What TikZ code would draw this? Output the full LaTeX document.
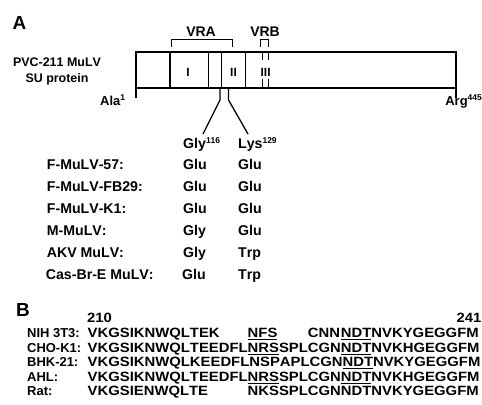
\documentclass[tikz,border=0pt]{standalone}
\usepackage{fontspec}
\setmainfont{Liberation Sans}[Kerning=Off]
\newcommand\sups[1]{\raisebox{4.5bp}{\fontsize{8.5}{8.5}\selectfont #1}}
\newcommand\ulx[1]{\setbox0\hbox{#1}\rlap{\rule[-2.6bp]{\wd0}{1.4bp}}\box0}
\newcommand\wide[1]{\scalebox{1.104}[1]{#1}}
\begin{document}
\begin{tikzpicture}[x=1bp,y=-1bp,
  panel/.style={font=\fontsize{19}{19}\selectfont\bfseries, inner sep=0pt},
  lab/.style={font=\fontsize{13}{13}\selectfont\bfseries, inner sep=0pt},
  vr/.style={font=\fontsize{14}{14}\selectfont\bfseries, inner sep=0pt},
  num/.style={font=\fontsize{12}{12}\selectfont\bfseries, inner sep=0pt},
  tab/.style={font=\fontsize{14.2}{14.2}\selectfont\bfseries, inner sep=0pt, anchor=base west},
  rowlab/.style={font=\fontsize{13}{13}\selectfont\bfseries, inner sep=0pt, anchor=base west},
  seq/.style={font=\fontsize{13.5}{13.5}\selectfont\bfseries, inner sep=0pt, anchor=base west},
  heavy/.style={line width=1.9bp},
  thin/.style={line width=1.3bp},
]
\useasboundingbox (0,0) rectangle (482,404);
% panel letters
\node[panel] (pA) at (19.5,23) {A};
\node[panel] (pB) at (23,310) {B};
% protein label
\node[font=\fontsize{12.5}{12.5}\selectfont\bfseries, inner sep=0pt, align=center] (prot) at (57,71) {PVC-211 MuLV\\[3.5bp]SU protein};
% SU box
\draw[thin] (136,52) -- (136,88) (456,52) -- (456,88);
\draw[heavy] (135.3,52) -- (456.7,52) (135.3,88) -- (456.7,88);
\draw[thin] (170,52) -- (170,88) (208.3,52) -- (208.3,88)
            (221.7,52) -- (221.7,88) (245.7,52) -- (245.7,88);
\draw[thin] (262.6,52) -- (262.6,60) (262.6,79) -- (262.6,88)
            (268.6,52) -- (268.6,60) (268.6,79) -- (268.6,88);
\node[num] (r1) at (188,72) {I};
\node[num] (r2) at (233.5,72) {II};
\node[num] (r3) at (265.6,72) {III};
% brackets
\draw[thin] (171.7,47) -- (171.7,39.3) -- (232.3,39.3) -- (232.3,47);
\draw[thin] (260.3,47) -- (260.3,39.3) -- (268.3,39.3) -- (268.3,47);
\node[vr] (vra) at (201,32) {VRA};
\node[vr] (vrb) at (265,32) {VRB};
% ends
\draw[thin] (136,88) -- (136,98);
\draw[thin] (456,88) -- (456,98);
\node[lab, anchor=base west] (ala) at (100,105) {Ala\sups{1}};
\node[lab, anchor=base east] (arg) at (482,105) {Arg\sups{445}};
% residue lines
\node[tab] (gly) at (183,148) {Gly\sups{116}};
\node[tab] (lys) at (238,148) {Lys\sups{129}};
\coordinate (g0) at (220,88);
\coordinate (g1) at (220,100);
\coordinate (g2) at (203,134);
\coordinate (l0) at (228.5,88);
\coordinate (l1) at (228.5,100);
\coordinate (l2) at (248,134);
\draw[thin] (g0) -- (g1) -- (g2);
\draw[thin] (l0) -- (l1) -- (l2);
% table
\node[tab] (v1) at (46.7,169.3) {F-MuLV-57:};
\node[tab] (v2) at (46.7,191.3) {F-MuLV-FB29:};
\node[tab] (v3) at (46.7,213.3) {F-MuLV-K1:};
\node[tab] (v4) at (46.7,235.3) {M-MuLV:};
\node[tab] (v5) at (46.7,257.3) {AKV MuLV:};
\node[tab] (v6) at (45.7,279.3) {Cas-Br-E MuLV:};
\node[tab] (a1) at (183,169.3) {Glu};
\node[tab] (a2) at (183,191.3) {Glu};
\node[tab] (a3) at (183,213.3) {Glu};
\node[tab] (a4) at (183,235.3) {Gly};
\node[tab] (a5) at (183,257.3) {Gly};
\node[tab] (a6) at (182,279.3) {Glu};
\node[tab] (b1) at (238,169.3) {Glu};
\node[tab] (b2) at (238,191.3) {Glu};
\node[tab] (b3) at (238,213.3) {Glu};
\node[tab] (b4) at (238,235.3) {Glu};
\node[tab] (b5) at (238,257.3) {Trp};
\node[tab] (b6) at (238,279.3) {Trp};
% panel B
\node[seq] (n210) at (87,322.8) {\wide{210}};
\node[seq, anchor=base east] (n241) at (481.5,322.8) {\wide{241}};
\node[rowlab] (s1) at (27,337.8) {NIH 3T3:};
\node[rowlab] (s2) at (27,352.3) {CHO-K1:};
\node[rowlab] (s3) at (27,366.8) {BHK-21:};
\node[rowlab] (s4) at (27,381.3) {AHL:};
\node[rowlab] (s5) at (27,395.8) {Rat:};
\node[seq] (q1) at (87.5,337.8) {\wide{\rlap{VKGSIKNWQLTEK}\phantom{VKGSIKNWQLTEEDFL}\rlap{\ulx{NFS}}\phantom{NRSSPL}\rlap{CNN}\phantom{CGN}\ulx{NDT}NVKYGEGGFM}};
\node[seq] (q2) at (87.5,352.3) {\wide{VKGSIKNWQLTEEDFL\ulx{NRS}SPLCGN\ulx{NDT}NVKHGEGGFM}};
\node[seq] (q3) at (87.5,366.8) {\wide{VKGSIKNWQLKEEDFLNSPAPLCGN\ulx{NDT}NVKYGEGGFM}};
\node[seq] (q4) at (87.5,381.3) {\wide{VKGSIKNWQLTEEDFL\ulx{NRS}SPLCGN\ulx{NDT}NVKHGEGGFM}};
\node[seq] (q5) at (87.5,395.8) {\wide{\rlap{VKGSIENWQLTE}\phantom{VKGSIKNWQLTEEDFL}NKSSPLCGNNDTNVKYGEGGFM}};
\end{tikzpicture}
\end{document}
